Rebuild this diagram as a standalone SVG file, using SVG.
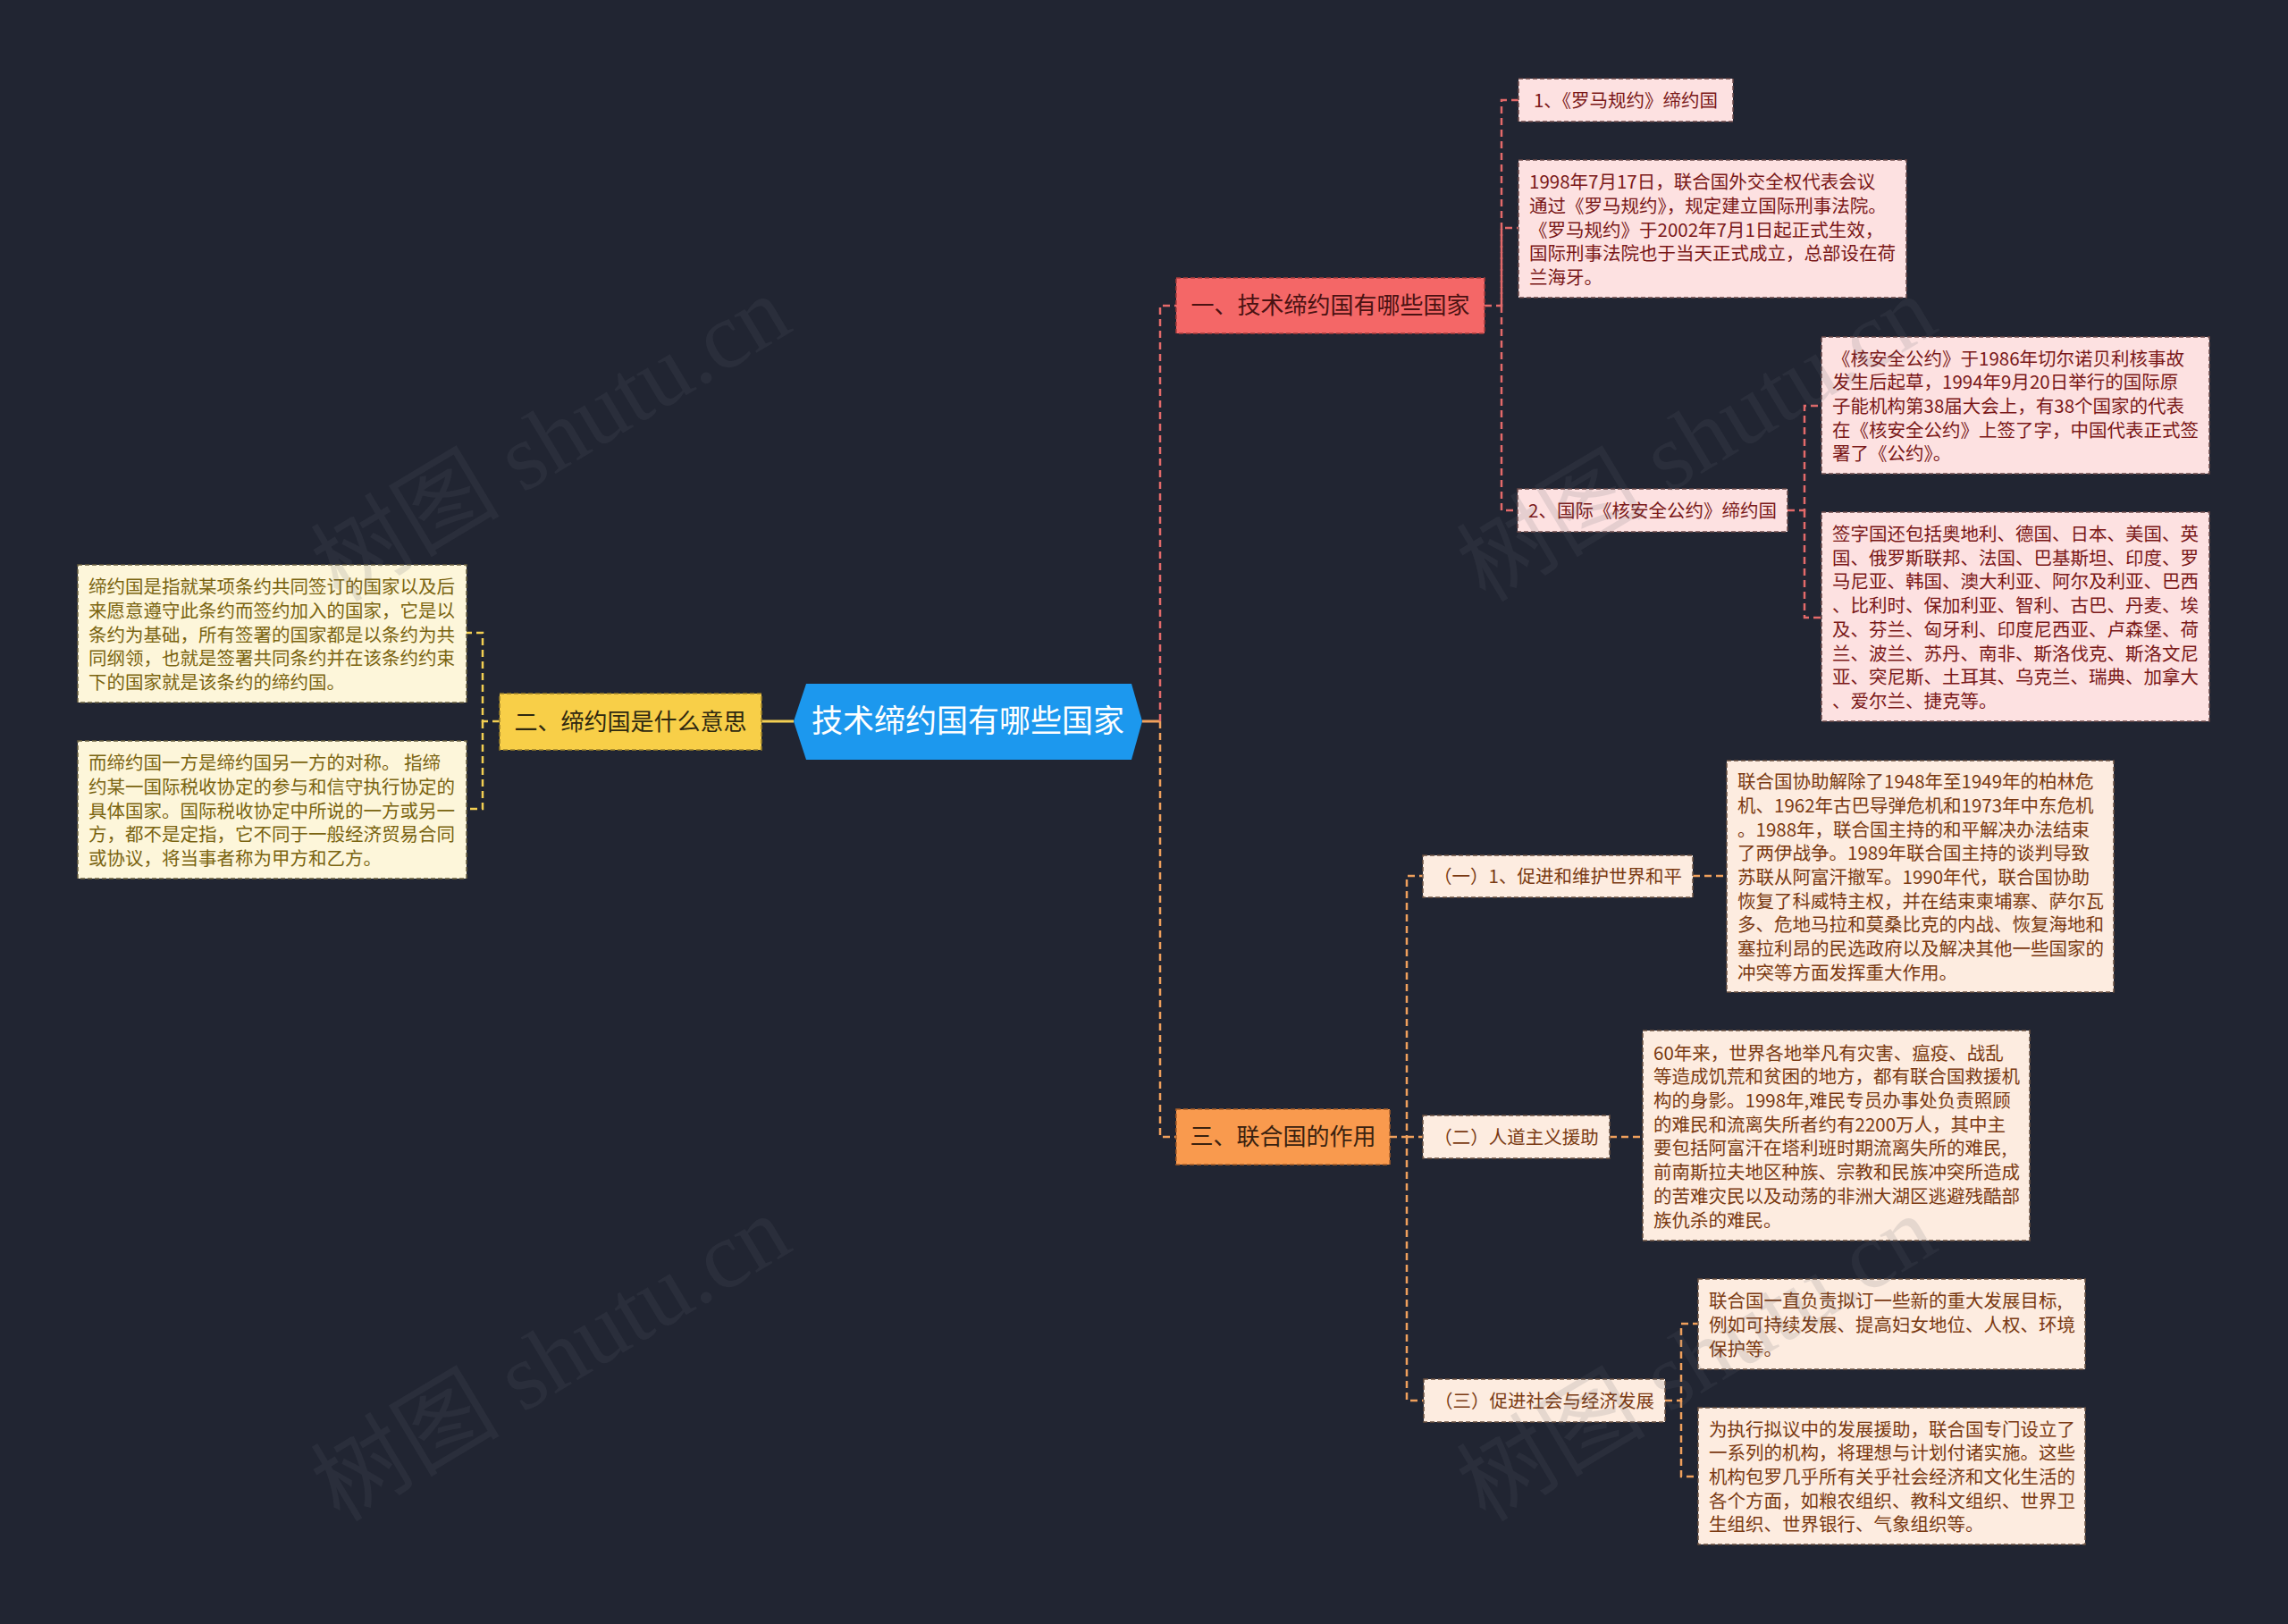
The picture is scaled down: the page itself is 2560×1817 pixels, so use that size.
<svg xmlns="http://www.w3.org/2000/svg" width="2560" height="1817" viewBox="0 0 2560 1817">
<style>
text{font-family:"Noto Sans CJK SC","Microsoft YaHei","Noto Sans",sans-serif;}
.c{stroke-width:2.5;fill:none;stroke-dasharray:8 5;}
.cr{stroke:#e46a6a;}
.co{stroke:#f0a05c;}
.cy{stroke:#f3cf52;}
.bd{stroke-width:1.5;stroke-dasharray:5 3;}
.br{fill:#f46767;stroke:#a83c3c;}
.bo{fill:#f99a4e;stroke:#a85e28;}
.by{fill:#f8cf48;stroke:#9a8028;}
.pr{fill:#fde1e1;stroke:#6a4848;}
.po{fill:#fdece0;stroke:#6a5040;}
.py{fill:#fdf6da;stroke:#6a6040;}
.tb{font-size:26px;text-anchor:middle;}
.tl{font-size:20.5px;text-anchor:middle;}
.td{font-size:20.5px;}
.kr{fill:#7a1818;}
.ko{fill:#7a3a12;}
.ky{fill:#7a6410;}
.wm{font-family:"Liberation Serif","Noto Sans CJK SC",serif;font-size:106px;fill:#606570;opacity:0.15;}
</style>
<rect width="2560" height="1817" fill="#212532"/>

<g id="connectors">
<path d="M1278,807 H1298" stroke="#f0a05c" stroke-width="3" fill="none"/>
<path d="M888,807 H852" stroke="#f3cf52" stroke-width="3" fill="none"/>
<path class="c cr" d="M1298,807 V342 H1316"/>
<path class="c co" d="M1298,807 V1272 H1316"/>
<path class="c cy" d="M559,807 H540 V708 H522"/>
<path class="c cy" d="M540,807 V905 H522"/>
<path class="c cr" d="M1661,342 H1680 V112 H1699"/>
<path class="c cr" d="M1680,342 V255 H1699"/>
<path class="c cr" d="M1680,342 V571 H1698"/>
<path class="c cr" d="M2000,571 H2019 V454 H2038"/>
<path class="c cr" d="M2019,571 V691 H2038"/>
<path class="c co" d="M1555,1272 H1574 V980 H1592"/>
<path class="c co" d="M1574,1272 H1592"/>
<path class="c co" d="M1574,1272 V1567 H1593"/>
<path class="c co" d="M1894,980 H1932"/>
<path class="c co" d="M1801,1272 H1838"/>
<path class="c co" d="M1863,1567 H1881 V1481 H1900"/>
<path class="c co" d="M1881,1567 V1652 H1900"/>
</g>

<g id="root">
<polygon points="888,807 902,765 1266,765 1278,807 1266,850 902,850" fill="#1c98ee"/>
<text x="1083" y="819" font-size="35" fill="#ffffff" text-anchor="middle">技术缔约国有哪些国家</text>
</g>

<g id="b1">
<rect class="bd br" x="1316" y="311" width="345" height="62"/>
<text class="tb" x="1488.5" y="351" fill="#4a1212">一、技术缔约国有哪些国家</text>
</g>
<g id="b2">
<rect class="bd by" x="559" y="776" width="293" height="63"/>
<text class="tb" x="705.5" y="816.5" fill="#2e2810">二、缔约国是什么意思</text>
</g>
<g id="b3">
<rect class="bd bo" x="1316" y="1241" width="239" height="62"/>
<text class="tb" x="1435.5" y="1281" fill="#3a2210">三、联合国的作用</text>
</g>

<g id="b1-1">
<rect class="bd pr" x="1699" y="88" width="240" height="48"/>
<text class="tl kr" x="1819" y="119.5">1、《罗马规约》缔约国</text>
</g>
<g id="b1-2">
<rect class="bd pr" x="1699" y="179" width="434" height="154"/>
<text class="td kr" x="1711" y="211.1">1998年7月17日，联合国外交全权代表会议<tspan x="1711" dy="26.7">通过《罗马规约》，规定建立国际刑事法院。</tspan><tspan x="1711" dy="26.7">《罗马规约》于2002年7月1日起正式生效，</tspan><tspan x="1711" dy="26.7">国际刑事法院也于当天正式成立，总部设在荷</tspan><tspan x="1711" dy="26.7">兰海牙。</tspan></text>
</g>
<g id="b1-3">
<rect class="bd pr" x="1698" y="547" width="302" height="48"/>
<text class="tl kr" x="1849" y="578.5">2、国际《核安全公约》缔约国</text>
</g>
<g id="b1-3-1">
<rect class="bd pr" x="2038" y="377" width="434" height="153"/>
<text class="td kr" x="2050" y="408.6">《核安全公约》于1986年切尔诺贝利核事故<tspan x="2050" dy="26.7">发生后起草，1994年9月20日举行的国际原</tspan><tspan x="2050" dy="26.7">子能机构第38届大会上，有38个国家的代表</tspan><tspan x="2050" dy="26.7">在《核安全公约》上签了字，中国代表正式签</tspan><tspan x="2050" dy="26.7">署了《公约》。</tspan></text>
</g>
<g id="b1-3-2">
<rect class="bd pr" x="2038" y="573" width="434" height="234"/>
<text class="td kr" x="2050" y="605">签字国还包括奥地利、德国、日本、美国、英<tspan x="2050" dy="26.7">国、俄罗斯联邦、法国、巴基斯坦、印度、罗</tspan><tspan x="2050" dy="26.7">马尼亚、韩国、澳大利亚、阿尔及利亚、巴西</tspan><tspan x="2050" dy="26.7">、比利时、保加利亚、智利、古巴、丹麦、埃</tspan><tspan x="2050" dy="26.7">及、芬兰、匈牙利、印度尼西亚、卢森堡、荷</tspan><tspan x="2050" dy="26.7">兰、波兰、苏丹、南非、斯洛伐克、斯洛文尼</tspan><tspan x="2050" dy="26.7">亚、突尼斯、土耳其、乌克兰、瑞典、加拿大</tspan><tspan x="2050" dy="26.7">、爱尔兰、捷克等。</tspan></text>
</g>

<g id="b2-1">
<rect class="bd py" x="87" y="632" width="435" height="154"/>
<text class="td ky" x="99" y="664.1">缔约国是指就某项条约共同签订的国家以及后<tspan x="99" dy="26.7">来愿意遵守此条约而签约加入的国家，它是以</tspan><tspan x="99" dy="26.7">条约为基础，所有签署的国家都是以条约为共</tspan><tspan x="99" dy="26.7">同纲领，也就是签署共同条约并在该条约约束</tspan><tspan x="99" dy="26.7">下的国家就是该条约的缔约国。</tspan></text>
</g>
<g id="b2-2">
<rect class="bd py" x="87" y="829" width="435" height="154"/>
<text class="td ky" x="99" y="861.1">而缔约国一方是缔约国另一方的对称。 指缔<tspan x="99" dy="26.7">约某一国际税收协定的参与和信守执行协定的</tspan><tspan x="99" dy="26.7">具体国家。国际税收协定中所说的一方或另一</tspan><tspan x="99" dy="26.7">方，都不是定指，它不同于一般经济贸易合同</tspan><tspan x="99" dy="26.7">或协议，将当事者称为甲方和乙方。</tspan></text>
</g>

<g id="b3-1">
<rect class="bd po" x="1592" y="957" width="302" height="47"/>
<text class="tl ko" x="1743" y="988">（一）1、促进和维护世界和平</text>
</g>
<g id="b3-1-1">
<rect class="bd po" x="1932" y="851" width="433" height="259"/>
<text class="td ko" x="1944" y="882.2">联合国协助解除了1948年至1949年的柏林危<tspan x="1944" dy="26.7">机、1962年古巴导弹危机和1973年中东危机</tspan><tspan x="1944" dy="26.7">。1988年，联合国主持的和平解决办法结束</tspan><tspan x="1944" dy="26.7">了两伊战争。1989年联合国主持的谈判导致</tspan><tspan x="1944" dy="26.7">苏联从阿富汗撤军。1990年代，联合国协助</tspan><tspan x="1944" dy="26.7">恢复了科威特主权，并在结束柬埔寨、萨尔瓦</tspan><tspan x="1944" dy="26.7">多、危地马拉和莫桑比克的内战、恢复海地和</tspan><tspan x="1944" dy="26.7">塞拉利昂的民选政府以及解决其他一些国家的</tspan><tspan x="1944" dy="26.7">冲突等方面发挥重大作用。</tspan></text>
</g>
<g id="b3-2">
<rect class="bd po" x="1592" y="1248" width="209" height="48"/>
<text class="tl ko" x="1696.5" y="1279.5">（二）人道主义援助</text>
</g>
<g id="b3-2-1">
<rect class="bd po" x="1838" y="1153" width="433" height="235"/>
<text class="td ko" x="1850" y="1185.6">60年来，世界各地举凡有灾害、瘟疫、战乱<tspan x="1850" dy="26.7">等造成饥荒和贫困的地方，都有联合国救援机</tspan><tspan x="1850" dy="26.7">构的身影。1998年,难民专员办事处负责照顾</tspan><tspan x="1850" dy="26.7">的难民和流离失所者约有2200万人，其中主</tspan><tspan x="1850" dy="26.7">要包括阿富汗在塔利班时期流离失所的难民,</tspan><tspan x="1850" dy="26.7">前南斯拉夫地区种族、宗教和民族冲突所造成</tspan><tspan x="1850" dy="26.7">的苦难灾民以及动荡的非洲大湖区逃避残酷部</tspan><tspan x="1850" dy="26.7">族仇杀的难民。</tspan></text>
</g>
<g id="b3-3">
<rect class="bd po" x="1593" y="1543" width="270" height="48"/>
<text class="tl ko" x="1728" y="1574.5">（三）促进社会与经济发展</text>
</g>
<g id="b3-3-1">
<rect class="bd po" x="1900" y="1431" width="433" height="101"/>
<text class="td ko" x="1912" y="1463.3">联合国一直负责拟订一些新的重大发展目标,<tspan x="1912" dy="26.7">例如可持续发展、提高妇女地位、人权、环境</tspan><tspan x="1912" dy="26.7">保护等。</tspan></text>
</g>
<g id="b3-3-2">
<rect class="bd po" x="1900" y="1575" width="433" height="153"/>
<text class="td ko" x="1912" y="1606.6">为执行拟议中的发展援助，联合国专门设立了<tspan x="1912" dy="26.7">一系列的机构，将理想与计划付诸实施。这些</tspan><tspan x="1912" dy="26.7">机构包罗几乎所有关乎社会经济和文化生活的</tspan><tspan x="1912" dy="26.7">各个方面，如粮农组织、教科文组织、世界卫</tspan><tspan x="1912" dy="26.7">生组织、世界银行、气象组织等。</tspan></text>
</g>

<g id="watermarks">
<text class="wm" transform="translate(380,675) rotate(-31)">树图 shutu.cn</text>
<text class="wm" transform="translate(380,1704) rotate(-31)">树图 shutu.cn</text>
<text class="wm" transform="translate(1662,675) rotate(-31)">树图 shutu.cn</text>
<text class="wm" transform="translate(1662,1704) rotate(-31)">树图 shutu.cn</text>
</g>
</svg>
